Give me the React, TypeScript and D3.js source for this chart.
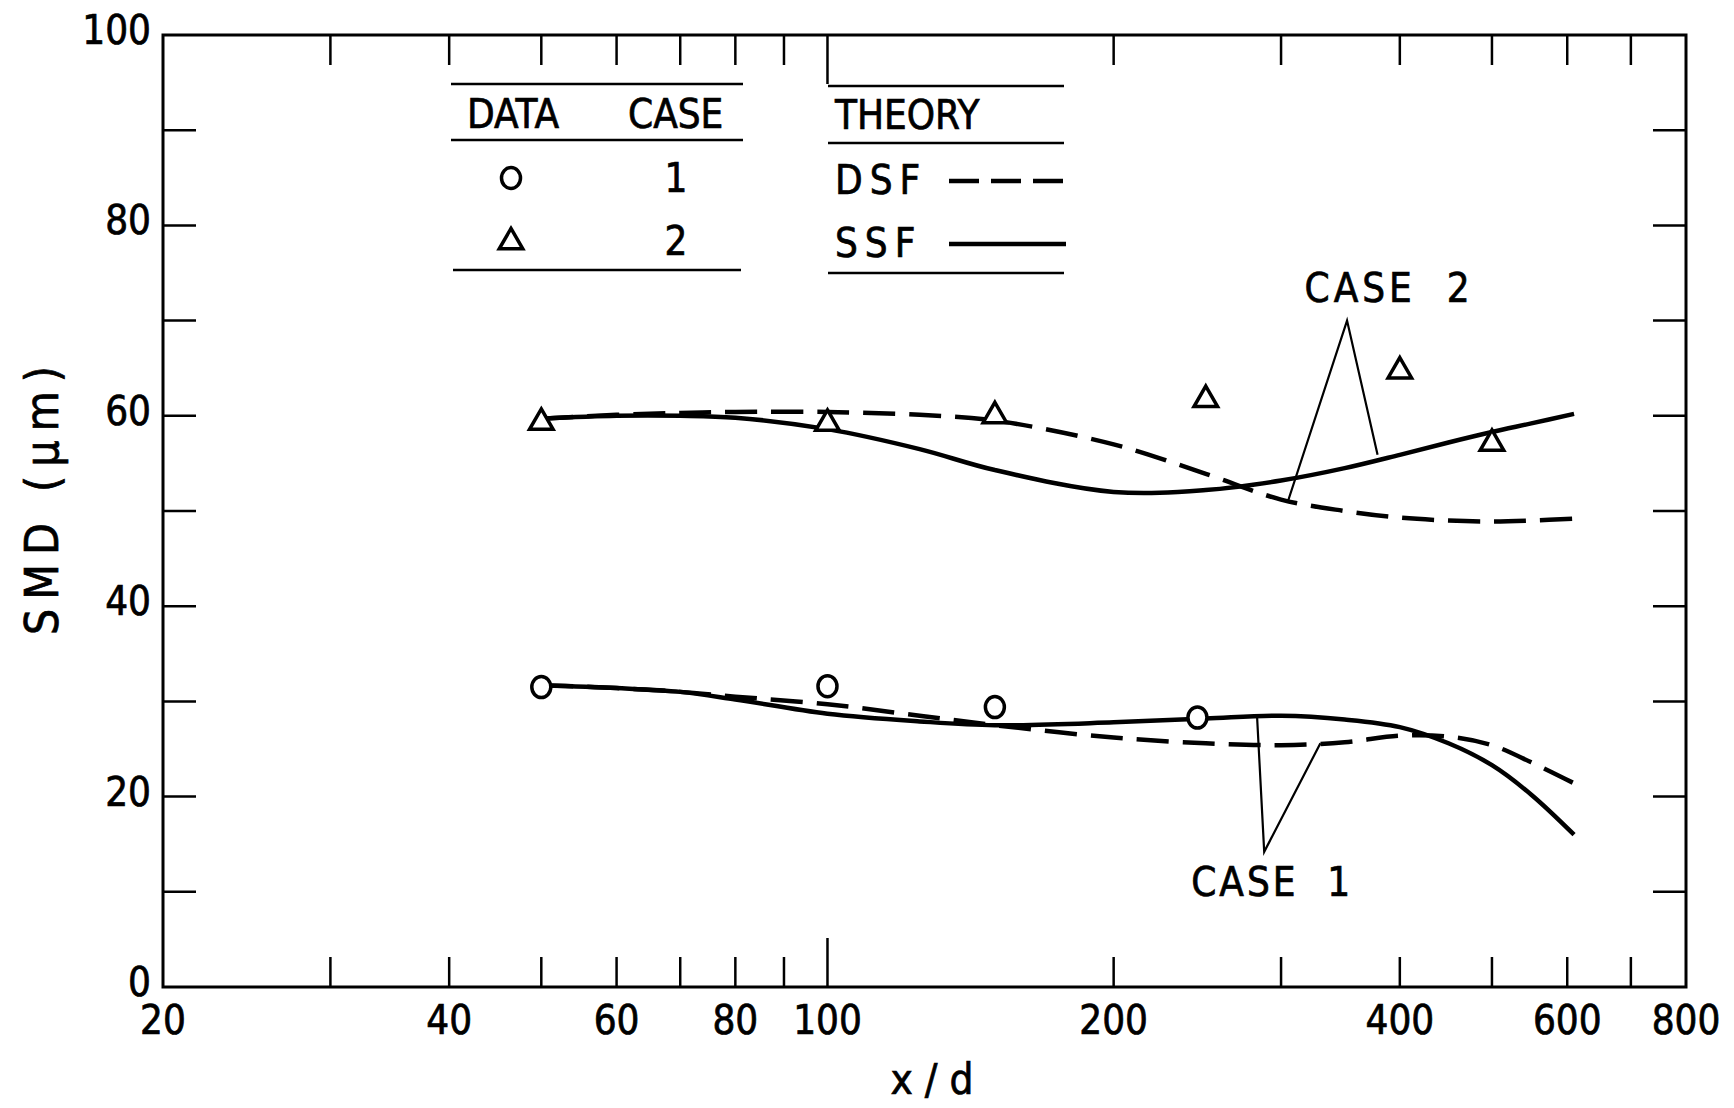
import React, { useEffect, useRef } from "react";
import * as d3 from "d3";

// axis ticks
const xMinorTicks = [30, 40, 50, 60, 70, 80, 90, 200, 300, 400, 500, 600, 700];
const xMajorTicks = [100];
const xTickLabels = [20, 40, 60, 80, 100, 200, 400, 600, 800];
const yTicks = [10, 20, 30, 40, 50, 60, 70, 80, 90];
const yTickLabels = [0, 20, 40, 60, 80, 100];

// theory curves (x/d, SMD in um)
const curveX = [50, 60, 70, 80, 100, 125, 150, 200, 250, 300, 350, 400, 450, 500, 550, 610];
const case1SSF = [31.7, 31.4, 31.0, 30.2, 28.7, 27.9, 27.5, 27.8, 28.2, 28.5, 28.1, 27.3, 25.6, 23.3, 20.2, 16.0];
const case1DSF = [31.7, 31.4, 31.0, 30.5, 29.7, 28.5, 27.5, 26.2, 25.6, 25.4, 25.7, 26.4, 26.3, 25.4, 23.6, 21.4];
const case2SSF = [59.7, 60.0, 60.0, 59.8, 58.6, 56.5, 54.3, 52.0, 52.2, 53.2, 54.5, 55.9, 57.2, 58.3, 59.2, 60.2];
const case2DSF = [59.7, 60.1, 60.3, 60.4, 60.4, 60.1, 59.5, 57.0, 53.9, 51.2, 50.0, 49.3, 49.0, 48.9, 49.0, 49.2];

// measured data
const case1DataX = [50, 100, 150, 245];
const case1DataY = [31.5, 31.6, 29.4, 28.3];
const case2DataX = [50, 100, 150, 250, 400, 500];
const case2DataY = [59.5, 59.4, 60.2, 61.9, 64.9, 57.3];

// leader lines for the case labels: [end, apex, end]
const case1Leader: [number, number][] = [[283, 28.6], [288, 14.2], [330, 25.6]];
const case2Leader: [number, number][] = [[305, 51.0], [352, 70.0], [379, 55.9]];

const FONT = "'Liberation Sans Narrow', 'DejaVu Sans Condensed', 'Roboto Condensed', Roboto, sans-serif";

const App = () => {
  const svgRef = useRef<SVGSVGElement>(null);

  useEffect(() => {
    const width = 1734;
    const height = 1108;
    const margin = { top: 35, right: 48, bottom: 121, left: 163 };

    const svg = d3.select(svgRef.current);
    svg.selectAll("*").remove();
    svg.attr("width", width).attr("height", height);

    svg.append("rect").attr("width", width).attr("height", height).attr("fill", "white");

    const x = d3.scaleLog().domain([20, 800]).range([margin.left, width - margin.right]);
    const y = d3.scaleLinear().domain([0, 100]).range([height - margin.bottom, margin.top]);

    const x0 = x.range()[0], x1 = x.range()[1];
    const y0 = y.range()[0], y1 = y.range()[1];

    // frame
    svg.append("rect")
      .attr("x", x0).attr("y", y1)
      .attr("width", x1 - x0).attr("height", y0 - y1)
      .attr("fill", "none").attr("stroke", "black").attr("stroke-width", 3);

    const ticks = svg.append("g").attr("stroke", "black").attr("stroke-width", 2.5);

    // x ticks, bottom and top, pointing inward
    const xt = [...xMinorTicks.map(v => ({ v, len: 30 })), ...xMajorTicks.map(v => ({ v, len: 49 }))];
    xt.forEach(t => {
      ticks.append("line").attr("x1", x(t.v)).attr("x2", x(t.v)).attr("y1", y0).attr("y2", y0 - t.len);
      ticks.append("line").attr("x1", x(t.v)).attr("x2", x(t.v)).attr("y1", y1).attr("y2", y1 + t.len);
    });

    // y ticks, left and right
    yTicks.forEach(v => {
      ticks.append("line").attr("x1", x0).attr("x2", x0 + 33).attr("y1", y(v)).attr("y2", y(v));
      ticks.append("line").attr("x1", x1).attr("x2", x1 - 33).attr("y1", y(v)).attr("y2", y(v));
    });

    const txt = (sel) => sel.style("font-family", FONT)
      .attr("stroke", "black").attr("stroke-width", 0.7);

    // tick labels
    svg.append("g")
      .call(txt)
      .selectAll("text")
      .data(xTickLabels)
      .join("text")
      .attr("x", d => x(d))
      .attr("y", y0 + 47)
      .attr("text-anchor", "middle")
      .style("font-size", "40px")
      .text(d => d);

    svg.append("g")
      .call(txt)
      .selectAll("text")
      .data(yTickLabels)
      .join("text")
      .attr("x", x0 - 12)
      .attr("y", d => y(d) + 9)
      .attr("text-anchor", "end")
      .style("font-size", "40px")
      .text(d => d);

    // axis titles
    svg.append("text")
      .call(txt)
      .attr("x", 932)
      .attr("y", 1094)
      .attr("text-anchor", "middle")
      .style("font-size", "42px")
      .attr("xml:space", "preserve")
      .text("x / d");

    svg.append("text")
      .call(txt)
      .attr("transform", "rotate(-90)")
      .attr("x", -496)
      .attr("y", 58)
      .attr("text-anchor", "middle")
      .style("font-size", "46px")
      .style("letter-spacing", "9px")
      .attr("xml:space", "preserve")
      .text("SMD (μm)");

    // theory curves
    const line = d3.line<number>()
      .x((d, i) => x(curveX[i]))
      .y(d => y(d))
      .curve(d3.curveCatmullRom.alpha(0.5));

    [case1SSF, case2SSF].forEach(s => {
      svg.append("path").attr("d", line(s)).attr("fill", "none")
        .attr("stroke", "black").attr("stroke-width", 4.5);
    });
    [case1DSF, case2DSF].forEach(s => {
      svg.append("path").attr("d", line(s)).attr("fill", "none")
        .attr("stroke", "black").attr("stroke-width", 4.5)
        .attr("stroke-dasharray", "32 14");
    });

    // leader lines
    [case1Leader, case2Leader].forEach(l => {
      svg.append("path")
        .attr("d", d3.line<[number, number]>().x(d => x(d[0])).y(d => y(d[1]))(l))
        .attr("fill", "none").attr("stroke", "black").attr("stroke-width", 2.2);
    });

    svg.append("text")
      .call(txt)
      .attr("x", x(352) + 42).attr("y", y(70) - 19)
      .attr("text-anchor", "middle")
      .style("font-size", "40px")
      .style("letter-spacing", "4px")
      .attr("xml:space", "preserve")
      .text("CASE  2");

    svg.append("text")
      .call(txt)
      .attr("x", x(288) + 8).attr("y", y(14.2) + 44)
      .attr("text-anchor", "middle")
      .style("font-size", "40px")
      .style("letter-spacing", "3px")
      .attr("xml:space", "preserve")
      .text("CASE  1");

    // markers
    const tri = d3.symbol().type(d3.symbolTriangle).size(240);
    const drawTri = (g, px, py) => {
      g.append("path").attr("d", tri()).attr("transform", `translate(${px},${py + 2})`)
        .attr("fill", "white").attr("stroke", "black").attr("stroke-width", 3.5)
        .attr("stroke-linejoin", "miter");
    };
    const drawCircle = (g, px, py) => {
      g.append("ellipse").attr("cx", px).attr("cy", py).attr("rx", 9.5).attr("ry", 10.5)
        .attr("fill", "white").attr("stroke", "black").attr("stroke-width", 3.5);
    };

    const pts = svg.append("g");
    case2DataX.forEach((v, i) => drawTri(pts, x(v), y(case2DataY[i])));
    case1DataX.forEach((v, i) => drawCircle(pts, x(v), y(case1DataY[i])));

    // legend
    const leg = svg.append("g");
    const hline = (xa, xb, yy) => leg.append("line").attr("x1", xa).attr("x2", xb)
      .attr("y1", yy).attr("y2", yy).attr("stroke", "black").attr("stroke-width", 2.5);

    hline(451, 743, 84);
    hline(451, 743, 140);
    hline(453, 741, 270);
    hline(828, 1064, 86);
    hline(828, 1064, 143);
    hline(828, 1064, 273);

    const labels = leg.append("g").call(txt).style("font-size", "40px");
    labels.append("text").attr("x", 467).attr("y", 128).text("DATA");
    labels.append("text").attr("x", 628).attr("y", 128).text("CASE");
    labels.append("text").attr("x", 835).attr("y", 129).text("THEORY");
    labels.append("text").attr("x", 676).attr("y", 192).attr("text-anchor", "middle").text("1");
    labels.append("text").attr("x", 676).attr("y", 255).attr("text-anchor", "middle").text("2");
    labels.append("text").attr("x", 835).attr("y", 194).style("letter-spacing", "7px").text("DSF");
    labels.append("text").attr("x", 835).attr("y", 257).style("letter-spacing", "7px").text("SSF");

    drawCircle(leg, 511, 178);
    drawTri(leg, 511, 240);

    leg.append("line").attr("x1", 949).attr("x2", 1066).attr("y1", 181).attr("y2", 181)
      .attr("stroke", "black").attr("stroke-width", 4.5).attr("stroke-dasharray", "30 12");
    leg.append("line").attr("x1", 949).attr("x2", 1066).attr("y1", 244).attr("y2", 244)
      .attr("stroke", "black").attr("stroke-width", 4.5);
  }, []);

  return (
    <div style={{ position: "absolute", left: 0, top: 0 }}>
      <svg ref={svgRef} style={{ display: "block" }}></svg>
    </div>
  );
};

export default App;
